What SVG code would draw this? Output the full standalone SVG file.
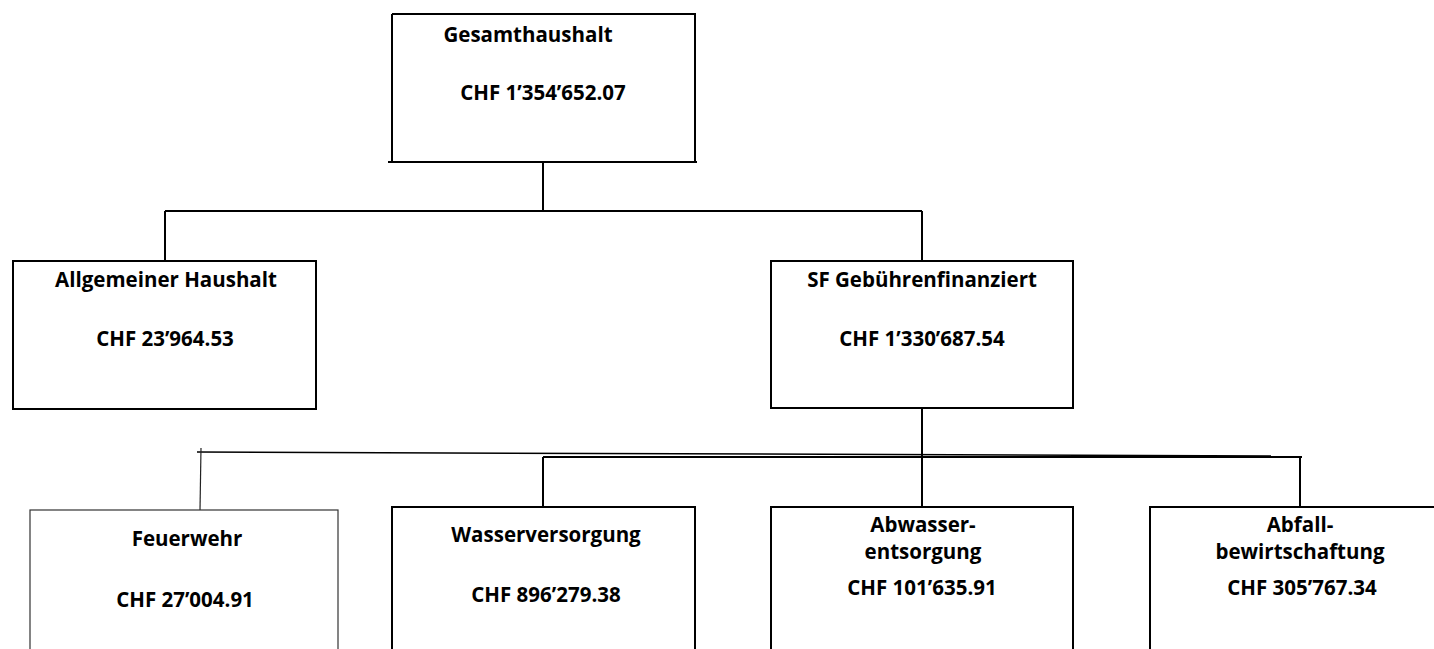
<svg xmlns="http://www.w3.org/2000/svg" width="1434" height="649" viewBox="0 0 1434 649">
<style>
.box{fill:#fff;stroke:#000;stroke-width:2}
.thin{fill:#fff;stroke:#333;stroke-width:1.2}
.ln{stroke:#000;stroke-width:2;fill:none}
.t{font-family:"Open Sans","Noto Sans",sans-serif;font-weight:bold;font-size:20.5px;fill:#000;text-anchor:middle}
</style>
<rect width="1434" height="649" fill="#fff"/>
<g id="connectors">
<line class="ln" x1="543" y1="163" x2="543" y2="211"/>
<line class="ln" x1="165" y1="211" x2="922" y2="211"/>
<line class="ln" x1="165" y1="211" x2="165" y2="261"/>
<line class="ln" x1="922" y1="211" x2="922" y2="261"/>
<line class="ln" x1="922" y1="408" x2="922" y2="507"/>
<line stroke="#000" stroke-width="1.5" x1="197" y1="452" x2="1302" y2="456"/>
<line class="ln" x1="543" y1="457" x2="1302" y2="457"/>
<line class="ln" x1="543" y1="457" x2="543" y2="507"/>
<line class="ln" x1="1300" y1="458" x2="1300" y2="507"/>
<line stroke="#222" stroke-width="1.2" x1="201" y1="448" x2="200" y2="510"/>
</g>
<g id="gesamthaushalt">
<path class="ln" d="M392 14 H695 V162 M392 14 V162 M388 162 H697"/>
<text class="t" x="528" y="42">Gesamthaushalt</text>
<text class="t" x="543" y="100">CHF 1’354’652.07</text>
</g>
<g id="allgemeiner">
<rect class="box" x="13" y="261" width="303" height="148"/>
<text class="t" x="166" y="287">Allgemeiner Haushalt</text>
<text class="t" x="165" y="346">CHF 23’964.53</text>
</g>
<g id="sf">
<rect class="box" x="771" y="261" width="302" height="147"/>
<text class="t" x="922" y="287">SF Gebührenfinanziert</text>
<text class="t" x="922" y="346">CHF 1’330’687.54</text>
</g>
<g id="feuerwehr">
<rect class="thin" x="30" y="510" width="308" height="160"/>
<text class="t" x="187" y="546">Feuerwehr</text>
<text class="t" x="185" y="607">CHF 27’004.91</text>
</g>
<g id="wasser">
<rect class="box" x="392" y="507" width="303" height="160"/>
<text class="t" x="546" y="542">Wasserversorgung</text>
<text class="t" x="546" y="602">CHF 896’279.38</text>
</g>
<g id="abwasser">
<rect class="box" x="771" y="507" width="302" height="160"/>
<text class="t" x="923" y="532">Abwasser-</text>
<text class="t" x="923" y="559">entsorgung</text>
<text class="t" x="922" y="595">CHF 101’635.91</text>
</g>
<g id="abfall">
<rect class="box" x="1150" y="507" width="320" height="160"/>
<text class="t" x="1300" y="532">Abfall-</text>
<text class="t" x="1300" y="559">bewirtschaftung</text>
<text class="t" x="1302" y="595">CHF 305’767.34</text>
</g>
</svg>
